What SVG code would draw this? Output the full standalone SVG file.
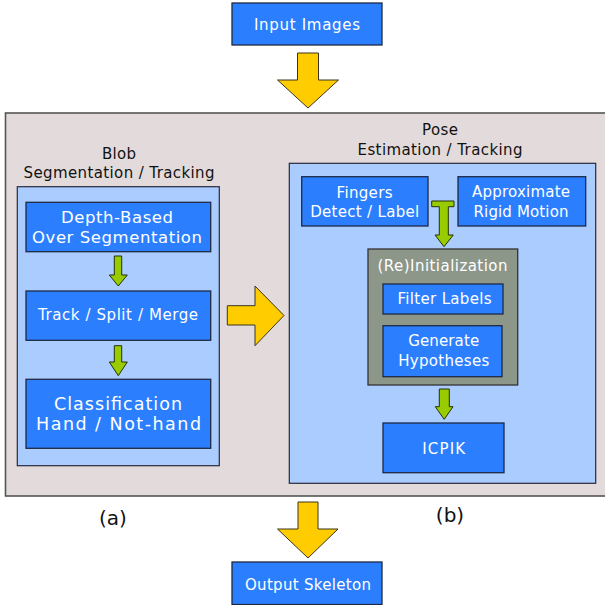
<svg xmlns="http://www.w3.org/2000/svg" width="605" height="605" viewBox="0 0 605 605">
<style>
.box{fill:#2b7fff;stroke:#1d2a44;stroke-width:1.3}
.panel{fill:#aaccff;stroke:#2a2a3a;stroke-width:1.2}
.wt{fill:#ffffff;font-family:"DejaVu Sans",Verdana,sans-serif;font-size:15px;text-anchor:middle}
.wl{font-size:16.5px}
.wx{font-size:17.5px}
.bt{fill:#111111;font-family:"DejaVu Sans",Verdana,sans-serif;font-size:15px;text-anchor:middle}
.ya{fill:#ffcc00;stroke:#3b3520;stroke-width:1}
.ga{fill:#99cc00;stroke:#263000;stroke-width:1}
</style>
<rect x="0" y="0" width="605" height="605" fill="#ffffff"/>
<g id="outer">
<rect x="5.5" y="113" width="612" height="383" fill="#e3dbdb" stroke="#555555" stroke-width="1.6"/>
<text class="bt" x="119" y="158.5" textLength="34">Blob</text>
<text class="bt" x="119" y="177.5" textLength="191">Segmentation / Tracking</text>
<text class="bt" x="440" y="135" textLength="36">Pose</text>
<text class="bt" x="440" y="154.5" textLength="165">Estimation / Tracking</text>
</g>
<g id="panel-a"><rect class="panel" x="17.3" y="186.7" width="202" height="279"/></g>
<g id="panel-b"><rect class="panel" x="289.3" y="163.3" width="306.4" height="320"/></g>
<g id="input-images">
<rect class="box" x="232" y="3" width="150" height="42"/>
<text class="wt" x="307" y="30" textLength="106">Input Images</text>
</g>
<g id="depth-based">
<rect class="box" x="26" y="202.3" width="184.7" height="49.4"/>
<text class="wt wl" x="117" y="223.3" textLength="112">Depth-Based</text>
<text class="wt wl" x="117" y="243.3" textLength="170">Over Segmentation</text>
</g>
<g id="track-split-merge">
<rect class="box" x="26" y="291" width="184.7" height="49.3"/>
<text class="wt" x="118" y="320" textLength="160">Track / Split / Merge</text>
</g>
<g id="classification">
<rect class="box" x="26" y="379.3" width="184.7" height="69"/>
<text class="wt wx" x="118" y="410.3" textLength="128">Classification</text>
<text class="wt wx" x="118.5" y="429.8" textLength="165">Hand / Not-hand</text>
</g>
<g id="fingers">
<rect class="box" x="301.7" y="176.7" width="126.3" height="49.3"/>
<text class="wt" x="364.5" y="198" textLength="56">Fingers</text>
<text class="wt" x="364.7" y="217" textLength="109">Detect / Label</text>
</g>
<g id="approximate">
<rect class="box" x="458" y="176.7" width="127.7" height="49.3"/>
<text class="wt" x="521" y="197" textLength="98">Approximate</text>
<text class="wt" x="521" y="217" textLength="95">Rigid Motion</text>
</g>
<g id="reinitialization">
<rect x="368" y="249" width="149.7" height="136" fill="#8c9689" stroke="#333333" stroke-width="1.3"/>
<text class="wt" x="442.5" y="270.5" textLength="130">(Re)Initialization</text>
</g>
<g id="filter-labels">
<rect class="box" x="383" y="284" width="120" height="30"/>
<text class="wt" x="444.5" y="304" textLength="94">Filter Labels</text>
</g>
<g id="generate-hypotheses">
<rect class="box" x="383" y="325.7" width="119" height="51"/>
<text class="wt" x="443.7" y="346" textLength="71">Generate</text>
<text class="wt" x="443.8" y="365.5" textLength="91">Hypotheses</text>
</g>
<g id="icpik">
<rect class="box" x="383" y="423" width="121" height="49.7"/>
<text class="wt" x="443.7" y="454" textLength="43">ICPIK</text>
</g>
<g id="output-skeleton">
<rect class="box" x="232" y="562" width="150" height="42.5"/>
<text class="wt" x="308" y="589.5" textLength="126">Output Skeleton</text>
</g>
<g id="labels">
<text class="bt" x="113" y="525" style="font-size:20px">(a)</text>
<text class="bt" x="450" y="522" style="font-size:20px">(b)</text>
</g>
<g id="connectors">
<polygon class="ya" points="297.5,53 318.5,53 318.5,80 338.5,80 308,108 277.5,80 297.5,80"/>
<polygon class="ya" points="298,502 318,502 318,529 338,529 308,558 277.5,529 298,529"/>
<polygon class="ya" points="227.3,305.7 255,305.7 255,286 284,315.5 255,345.7 255,325 227.3,325"/>
<polygon class="ga" points="114.3,256 121.7,256 121.7,275 127.3,275 118.3,286 109.3,275 114.3,275"/>
<polygon class="ga" points="114.3,345.7 121.7,345.7 121.7,362 127.3,362 118.3,375.7 109.3,362 114.3,362"/>
<polygon class="ga" points="431.7,201 454,201 454,206.7 448.3,206.7 448.3,235 453.3,235 444,246.7 435,235 439.3,235 439.3,206.7 431.7,206.7"/>
<polygon class="ga" points="439.3,389 449.3,389 449.3,406.7 453,406.7 444.2,419.3 435.3,406.7 439.3,406.7"/>
</g>
</svg>
